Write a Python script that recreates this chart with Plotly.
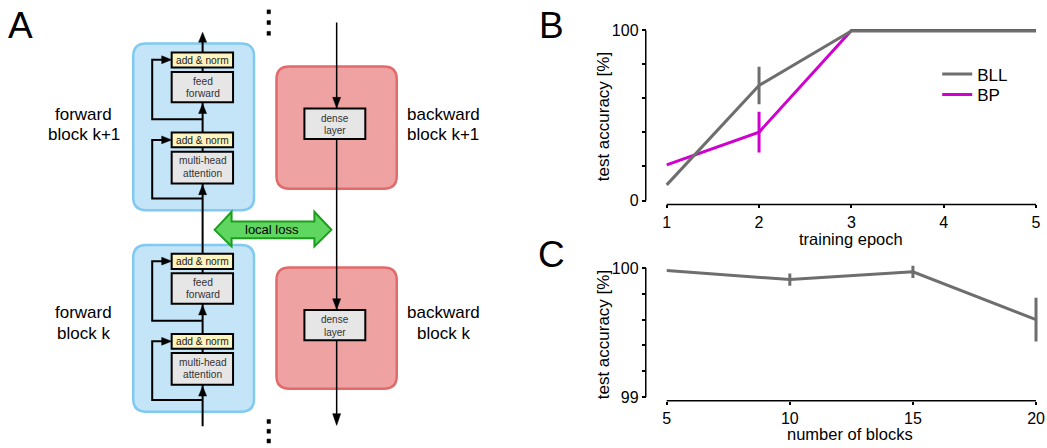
import plotly.graph_objects as go

# ---------------- data ----------------
epochs = [1, 2, 3, 4, 5]
bll_acc = [9.2, 67.6, 99.6, 99.6, 99.6]
bll_err = [0, 11, 0, 0, 0]
bp_acc = [21.0, 40.2, 100, 100, 100]
bp_err = [0, 12, 0, 0, 0]

n_blocks = [5, 10, 15, 20]
blocks_acc = [99.98, 99.91, 99.97, 99.60]
blocks_err = [0, 0.047, 0.047, 0.17]

b_yticks = [0, 100]
b_yminor = [20, 40, 60, 80]
c_yticks = [99, 100]
c_yminor = [99.2, 99.4, 99.6, 99.8]

# ---------------- style ----------------
W, H = 1047, 448
GRAY = '#6e6e6e'
MAG = '#d000d0'
FONT = 'Liberation Sans, Arial, sans-serif'


def fx(x):
    return x / W


def fy(y):
    return 1 - y / H


def pt(x, y):
    return f'{fx(x):.5f},{fy(y):.5f}'


shapes = []
annots = []


def rrect(x0, y0, x1, y1, r, fill, line, lw):
    d = (f'M{pt(x0 + r, y0)} L{pt(x1 - r, y0)} Q{pt(x1, y0)} {pt(x1, y0 + r)} '
         f'L{pt(x1, y1 - r)} Q{pt(x1, y1)} {pt(x1 - r, y1)} L{pt(x0 + r, y1)} '
         f'Q{pt(x0, y1)} {pt(x0, y1 - r)} L{pt(x0, y0 + r)} Q{pt(x0, y0)} {pt(x0 + r, y0)} Z')
    shapes.append(dict(type='path', xref='paper', yref='paper', path=d, fillcolor=fill,
                       line=dict(color=line, width=lw), layer='above'))


def rect(x0, y0, x1, y1, fill, line='black', lw=2):
    shapes.append(dict(type='rect', xref='paper', yref='paper', x0=fx(x0), x1=fx(x1),
                       y0=fy(y1), y1=fy(y0), fillcolor=fill,
                       line=dict(color=line, width=lw), layer='above'))


def poly(points, color='black', lw=2, closed=False, fill=None):
    d = 'M' + ' L'.join(pt(x, y) for x, y in points) + (' Z' if closed else '')
    s = dict(type='path', xref='paper', yref='paper', path=d,
             line=dict(color=color, width=lw), layer='above')
    if fill:
        s['fillcolor'] = fill
    shapes.append(s)


def arrow_up(x, y, hw=4, hl=10):
    poly([(x, y), (x - hw, y + hl), (x + hw, y + hl)], lw=0.5, closed=True, fill='black')


def arrow_down(x, y, hw=4, hl=10):
    poly([(x, y), (x - hw, y - hl), (x + hw, y - hl)], lw=0.5, closed=True, fill='black')


def arrow_right(x, y, hw=4, hl=10):
    poly([(x, y), (x - hl, y - hw), (x - hl, y + hw)], lw=0.5, closed=True, fill='black')


def text(x, y, s, size, color='black', angle=0):
    annots.append(dict(x=fx(x), y=fy(y), xref='paper', yref='paper', text=s,
                       showarrow=False, xanchor='center', yanchor='middle',
                       textangle=angle, font=dict(family=FONT, size=size, color=color)))


# ---------------- diagram A ----------------
BLUE_F, BLUE_L = '#c4e4f7', '#80caf1'
RED_F, RED_L = '#eea2a2', '#e26a6a'
YEL = '#fdf4c0'
GRY = '#e6e6e6'

# big boxes
for off in (0, 206):
    rrect(133.5, 40.5 + off, 254.5, 211 + off, 13, BLUE_F, BLUE_L, 2.5)
rrect(277, 64, 397.5, 189, 13, RED_F, RED_L, 2.5)
rrect(277, 269.5, 397.5, 393.5, 13, RED_F, RED_L, 2.5)

# forward stream main line
MX = 203
poly([(MX, 432), (MX, 34)], lw=2)
arrow_up(MX, 29)
# residual paths
RX = 152.5
for off in (0, 206):
    poly([(MX, 118 + off), (RX, 118 + off), (RX, 57 + off), (166, 57 + off)], lw=2)
    poly([(MX, 199 + off), (RX, 199 + off), (RX, 139 + off), (166, 139 + off)], lw=2)
    arrow_right(172, 57 + off)
    arrow_right(172, 139 + off)
    arrow_up(MX, 102 + off)
    arrow_up(MX, 185 + off)

# backward stream line
BX = 337.3
poly([(BX, 19), (BX, 422)], lw=1.5)
arrow_down(BX, 106.5, hw=4, hl=11)
arrow_down(BX, 312.5, hw=4, hl=11)
arrow_down(BX, 431, hw=4, hl=12)

# small boxes
for off in (0, 206):
    rect(172, 49.5 + off, 233.5, 65 + off, YEL)
    rect(172, 69.5 + off, 233.5, 100.5 + off, GRY)
    rect(172, 131.5 + off, 233.5, 146.5 + off, YEL)
    rect(172, 151 + off, 233.5, 183.5 + off, GRY)
    text(MX, 57.5 + off, 'add &amp; norm', 10.2, '#222')
    text(MX, 79 + off, 'feed', 10.2, '#333')
    text(MX, 91.5 + off, 'forward', 10.2, '#333')
    text(MX, 139.5 + off, 'add &amp; norm', 10.2, '#222')
    text(MX, 160.5 + off, 'multi-head', 10.2, '#333')
    text(MX, 173 + off, 'attention', 10.2, '#333')
for y0 in (107, 313):
    rect(305, y0, 366, y0 + 31, GRY)
    text(335.5, y0 + 10, 'dense', 10, '#333')
    text(335.5, y0 + 22.5, 'layer', 10, '#333')

# dots
for yy in (8, 19, 30, 427, 437, 447):
    rect(267.5, yy - 2, 271, yy + 2, 'black', 'black', 0.5)

# local loss double arrow
poly([(215, 231), (232, 212.5), (232, 222.5), (315, 222.5), (315, 212.5), (332, 231),
      (315, 248), (315, 239.5), (232, 239.5), (232, 248)],
     color='#1b9e1b', lw=2, closed=True, fill='#5fd65f')
text(273, 231, 'local loss', 13)

# labels
text(84, 113, 'forward', 17)
text(84, 133.5, 'block k+1', 17)
text(84, 316, 'forward', 17)
text(84, 337, 'block k', 17)
text(444, 113, 'backward', 17)
text(444, 133.5, 'block k+1', 17)
text(444, 316, 'backward', 17)
text(444, 337, 'block k', 17)

# panel letters
text(21, 22, 'A', 37)
text(553, 22, 'B', 37)
text(553, 256, 'C', 37)

# ---------------- charts B & C ----------------
AXX = 647  # y-spine pixel position


def lin_dom(v_a, px_a, v_b, px_b, r0, r1):
    s = (px_b - px_a) / (v_b - v_a)
    return px_a + (r0 - v_a) * s, px_a + (r1 - v_a) * s


# B
bxr = [0.9, 5.09]
bx0, bx1 = lin_dom(1, 668, 5, 1038, *bxr)
byr = [-3, 103]
by0, by1 = lin_dom(0, 201, 100, 27, *byr)
# C
cxr = [4.6, 20.3]
cx0, cx1 = lin_dom(5, 668, 20, 1038, *cxr)
cyr = [98.98, 100.03]
cy0, cy1 = lin_dom(99, 402, 100, 270, *cyr)

fig = go.Figure()
fig.add_trace(go.Scatter(x=epochs, y=bp_acc, mode='lines', name='BP', legend='legend2',
                         line=dict(color=MAG, width=3),
                         error_y=dict(type='data', array=bp_err, color=MAG, thickness=3, width=0),
                         xaxis='x', yaxis='y'))
fig.add_trace(go.Scatter(x=epochs, y=bll_acc, mode='lines', name='BLL', legend='legend',
                         line=dict(color=GRAY, width=3),
                         error_y=dict(type='data', array=bll_err, color=GRAY, thickness=3, width=0),
                         xaxis='x', yaxis='y'))
fig.add_trace(go.Scatter(x=n_blocks, y=blocks_acc, mode='lines', showlegend=False,
                         line=dict(color=GRAY, width=3),
                         error_y=dict(type='data', array=blocks_err, color=GRAY, thickness=3, width=0),
                         xaxis='x2', yaxis='y2'))

tickfont = dict(family=FONT, size=16, color='black')
common = dict(showgrid=False, zeroline=False, showline=False, ticks='outside',
              tickcolor='black', tickwidth=1.5, tickfont=tickfont, fixedrange=True,
              ticklabeloverflow='allow')

fig.update_layout(
    xaxis=dict(domain=[fx(bx0), fx(bx1)], range=bxr, anchor='free', position=fy(205),
               tickvals=epochs, ticklen=3, **common),
    yaxis=dict(domain=[fy(by0), fy(by1)], range=byr, anchor='free', position=fx(AXX),
               tickvals=b_yticks, ticklen=4,
               minor=dict(tickvals=b_yminor, ticks='outside', ticklen=4, tickwidth=1.5,
                          tickcolor='black', showgrid=False),
               **common),
    xaxis2=dict(domain=[fx(cx0), fx(cx1)], range=cxr, anchor='free', position=fy(405.7),
                tickvals=n_blocks, ticklen=3, **common),
    yaxis2=dict(domain=[fy(cy0), fy(cy1)], range=cyr, anchor='free', position=fx(AXX),
                tickvals=c_yticks, ticklen=4,
                minor=dict(tickvals=c_yminor, ticks='outside', ticklen=4, tickwidth=1.5,
                           tickcolor='black', showgrid=False),
                **common),
)

# spines drawn exactly over the data extent
shapes.append(dict(type='line', xref='paper', yref='y', x0=fx(AXX), x1=fx(AXX), y0=0, y1=100,
                   line=dict(color='black', width=1.5)))
shapes.append(dict(type='line', xref='x', yref='paper', x0=1, x1=5, y0=fy(205), y1=fy(205),
                   line=dict(color='black', width=1.5)))
shapes.append(dict(type='line', xref='paper', yref='y2', x0=fx(AXX), x1=fx(AXX), y0=99, y1=100,
                   line=dict(color='black', width=1.5)))
shapes.append(dict(type='line', xref='x2', yref='paper', x0=5, x1=20, y0=fy(405.7), y1=fy(405.7),
                   line=dict(color='black', width=1.5)))

# axis titles
text(605, 115, 'test accuracy [%]', 17, angle=-90)
text(853, 240, 'training epoch', 16.5)
text(605, 338, 'test accuracy [%]', 17, angle=-90)
text(852, 440, 'number of blocks', 16.5)

legend_common = dict(xanchor='left', yanchor='middle', bgcolor='rgba(0,0,0,0)',
                     borderwidth=0, font=dict(family=FONT, size=17, color='black'))
fig.update_layout(
    width=W, height=H, margin=dict(l=0, r=0, t=0, b=0),
    paper_bgcolor='white', plot_bgcolor='white',
    shapes=shapes, annotations=annots,
    showlegend=True,
    legend=dict(x=fx(939), y=fy(72), **legend_common),
    legend2=dict(x=fx(939), y=fy(93), **legend_common),
)

fig.write_html('out.html', config={'displayModeBar': False},
               post_script="document.body.style.margin='0px';document.body.style.padding='0px';"
                           "document.body.style.overflow='hidden';")
